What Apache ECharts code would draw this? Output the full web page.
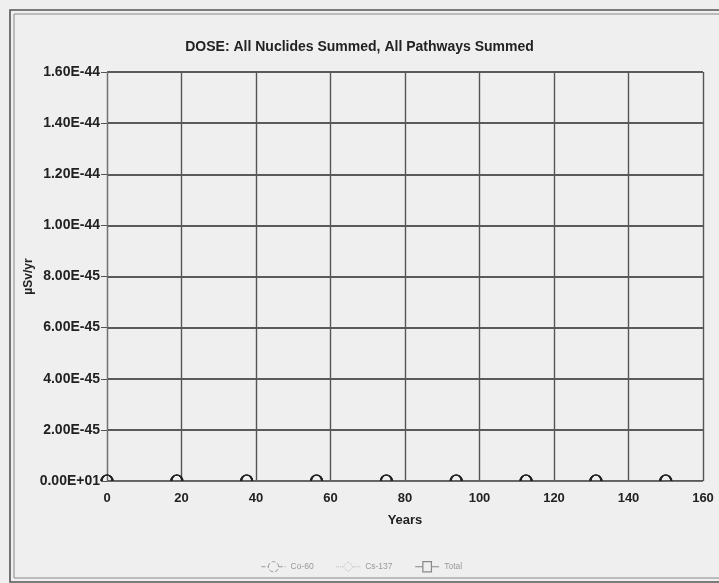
<!DOCTYPE html>
<html>
<head>
<meta charset="utf-8">
<script src="https://cdn.jsdelivr.net/npm/echarts@6/dist/echarts.min.js"></script>
<style>
html,body{margin:0;padding:0;background:#efefef;}
#chart{width:719px;height:583px;}
</style>
</head>
<body>
<div id="chart"></div>
<script>
// ---- data (dose in µSv/yr) ----
var years = [0, 18.75, 37.5, 56.25, 75, 93.75, 112.5, 131.25, 150];
var co60 = [0, 0, 0, 0, 0, 0, 0, 0, 0];
var cs137 = [0, 0, 0, 0, 0, 0, 0, 0, 0];
var total = [0, 0, 0, 0, 0, 0, 0, 0, 0];
var yTickLabels = ['0.00E+01', '2.00E-45', '4.00E-45', '6.00E-45', '8.00E-45',
                   '1.00E-44', '1.20E-44', '1.40E-44', '1.60E-44'];
var xTickLabels = ['0', '20', '40', '60', '80', '100', '120', '140', '160'];
// axis works in units of 1e-45 µSv/yr (ECharts tick math cannot handle ~1e-45 steps)
var yUnit = 1e-45;

function pairs(xs, ys) { return xs.map(function (x, i) { return [x, ys[i] / yUnit]; }); }

var chart = echarts.init(document.getElementById('chart'), null, {renderer: 'canvas'});
var halfCircle = 'path://M0,10 A10,10 0 0 1 20,10';
var font = 'Arial, "Liberation Sans", sans-serif';

function mkSeries(name, data, dash) {
  return {
    name: name, type: 'line', data: pairs(years, data),
    symbol: halfCircle, symbolSize: [11, 6], symbolOffset: [0, '-50%'],
    showSymbol: true, clip: false,
    lineStyle: {color: '#666', width: 1, type: dash},
    itemStyle: {color: 'rgba(0,0,0,0)', borderColor: '#222', borderWidth: 1.4},
    emphasis: {disabled: true},
    animation: false
  };
}

chart.setOption({
  backgroundColor: '#efefef',
  animation: false,
  title: {
    text: 'DOSE: All Nuclides Summed, All Pathways Summed',
    left: 'center', top: 35,
    textStyle: {fontFamily: font, fontSize: 14, fontWeight: 'bold', color: '#222'}
  },
  legend: {
    left: 256, top: 556, itemGap: 22, itemWidth: 24, itemHeight: 12,
    textStyle: {fontFamily: font, fontSize: 8.5, color: '#999'},
    data: [
      {name: 'Co-60', icon: 'path://M0,10 L8,10 M8,10 A6,6 0 1 1 20,10 A6,6 0 1 1 8,10 M20,10 L28,10',
       itemStyle: {color: 'rgba(0,0,0,0)', borderColor: '#999', borderWidth: 1, borderType: 'dashed'}},
      {name: 'Cs-137', icon: 'path://M0,10 L8,10 L14,4 L20,10 L14,16 L8,10 M20,10 L28,10',
       itemStyle: {color: 'rgba(0,0,0,0)', borderColor: '#bbb', borderWidth: 1, borderType: 'dotted'}},
      {name: 'Total', icon: 'path://M0,10 L9,10 L9,4 L19,4 L19,16 L9,16 L9,10 M19,10 L28,10',
       itemStyle: {color: 'rgba(0,0,0,0)', borderColor: '#888', borderWidth: 1.2}}
    ]
  },
  grid: {left: 107, right: 16, top: 72, bottom: 102},
  xAxis: {
    type: 'value', min: 0, max: 160, interval: 20,
    name: 'Years', nameLocation: 'middle', nameGap: 33,
    nameTextStyle: {fontFamily: font, fontSize: 13, fontWeight: 'bold', color: '#222'},
    axisLine: {show: true, lineStyle: {color: '#777', width: 1, type: 'dotted'}},
    axisTick: {show: false},
    axisLabel: {
      margin: 11, fontFamily: font, fontSize: 13, fontWeight: 'bold', color: '#222',
      formatter: function (v) { return xTickLabels[Math.round(v / 20)]; }
    },
    splitLine: {show: true, lineStyle: {color: '#555', width: 1.4}}
  },
  yAxis: {
    type: 'value', min: 0, max: 16, interval: 2,
    name: 'µSv/yr', nameLocation: 'middle', nameGap: 72, nameRotate: 90,
    nameMoveOverlap: false,
    nameTextStyle: {fontFamily: font, fontSize: 12, fontWeight: 'bold', color: '#222'},
    axisLine: {show: true, lineStyle: {color: '#777', width: 1, type: 'dotted'}},
    axisTick: {show: true, inside: false, length: 6, lineStyle: {color: '#555'}},
    axisLabel: {
      margin: 7, fontFamily: font, fontSize: 14, fontWeight: 'bold', color: '#222',
      formatter: function (v) { return yTickLabels[Math.round(v / 2)]; }
    },
    splitLine: {show: true, lineStyle: {color: '#5a5a5a', width: 2}}
  },
  graphic: [
    {type: 'rect', silent: true, z: 100,
     shape: {x: 10, y: 10, width: 720, height: 572},
     style: {fill: null, stroke: '#555', lineWidth: 1.6}},
    {type: 'rect', silent: true, z: 100,
     shape: {x: 14, y: 14, width: 716, height: 564},
     style: {fill: null, stroke: '#888', lineWidth: 1}}
  ],
  series: [
    mkSeries('Co-60', co60, 'dashed'),
    mkSeries('Cs-137', cs137, 'dotted'),
    mkSeries('Total', total, 'solid')
  ]
});
</script>
</body>
</html>
